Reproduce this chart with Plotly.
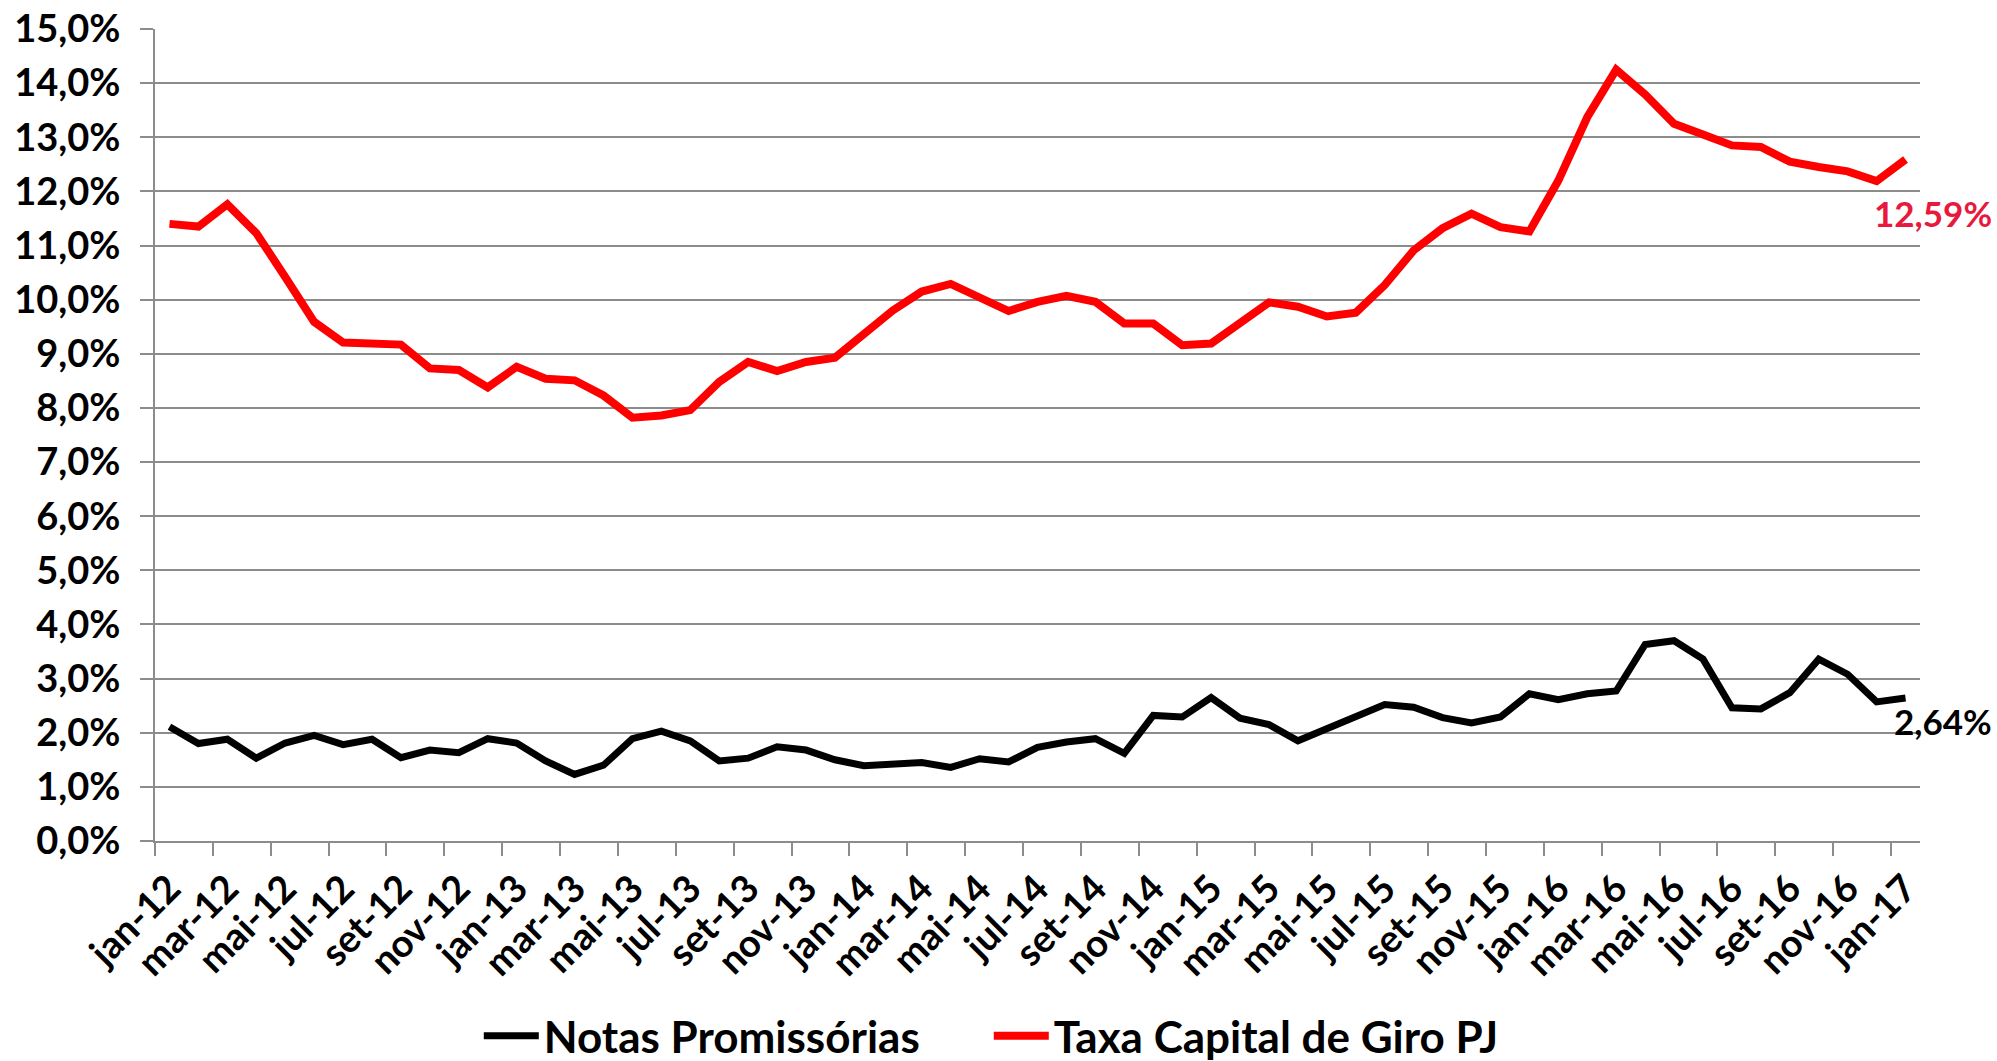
import plotly.graph_objects as go

months_pt = ["jan", "fev", "mar", "abr", "mai", "jun", "jul", "ago", "set", "out", "nov", "dez"]
categories = [f"{m}-{y}" for y in range(12, 17) for m in months_pt] + ["jan-17"]

notas_promissorias = [
    2.11, 1.80, 1.88, 1.53, 1.81, 1.95, 1.78, 1.88, 1.54, 1.68, 1.63, 1.89,
    1.81, 1.48, 1.23, 1.40, 1.89, 2.03, 1.85, 1.48, 1.53, 1.74, 1.68, 1.50,
    1.39, 1.43, 1.45, 1.36, 1.52, 1.46, 1.73, 1.83, 1.89, 1.62, 2.32, 2.29,
    2.65, 2.27, 2.15, 1.85, 2.07, 2.27, 2.52, 2.47, 2.28, 2.18, 2.29, 2.72,
    2.61, 2.72, 2.77, 3.63, 3.70, 3.36, 2.46, 2.44, 2.74, 3.36, 3.08, 2.57,
    2.64,
]

taxa_capital_giro = [
    11.40, 11.35, 11.76, 11.23, 10.42, 9.59, 9.21, 9.18, 9.17, 8.73, 8.70, 8.38,
    8.76, 8.54, 8.51, 8.23, 7.82, 7.86, 7.96, 8.48, 8.85, 8.68, 8.85, 8.93,
    9.38, 9.80, 10.15, 10.29, 10.04, 9.79, 9.96, 10.07, 9.96, 9.56, 9.56, 9.16,
    9.19, 9.56, 9.95, 9.87, 9.69, 9.76, 10.27, 10.91, 11.32, 11.59, 11.34, 11.26,
    12.20, 13.37, 14.25, 13.79, 13.25, 13.05, 12.85, 12.82, 12.55, 12.45, 12.37, 12.19,
    12.59,
]

label_notas = "2,64%"
label_taxa = "12,59%"

FONT = "Lato"
GRID = "#8c8c8c"
TICK_SIZE = 38

fig = go.Figure()
fig.add_trace(go.Scatter(
    x=categories, y=notas_promissorias, mode="lines", name="Notas Promissórias",
    line=dict(color="#000000", width=7), cliponaxis=False,
))
fig.add_trace(go.Scatter(
    x=categories, y=taxa_capital_giro, mode="lines", name="Taxa Capital de Giro PJ",
    line=dict(color="#FF0000", width=8), cliponaxis=False,
))

fig.add_annotation(x=categories[-1], y=taxa_capital_giro[-1], text=label_taxa,
                   showarrow=False, xanchor="right", yanchor="middle",
                   xshift=88, yshift=-54,
                   font=dict(family=FONT, size=35, weight="bold", color="#E8193C"))
fig.add_annotation(x=categories[-1], y=notas_promissorias[-1], text=label_notas,
                   showarrow=False, xanchor="right", yanchor="middle",
                   xshift=88, yshift=-23,
                   font=dict(family=FONT, size=35, weight="bold", color="#000000"))

fig.update_layout(
    width=1997, height=1061,
    margin=dict(l=155, r=77, t=29, b=220, autoexpand=False),
    paper_bgcolor="white", plot_bgcolor="white",
    separators=",.",
    showlegend=True,
    legend=dict(orientation="h", x=0.4724, xanchor="center",
                yref="container", y=0.0235, yanchor="middle",
                font=dict(family=FONT, size=44, weight="bold", color="#000000"),
                itemwidth=55, tracegroupgap=0,
                entrywidthmode="pixels", entrywidth=440),
    font=dict(family=FONT, color="#000000"),
)

fig.update_xaxes(
    type="category", range=[-0.5, len(categories) - 0.5], automargin=False,
    tickmode="linear", tick0=0, dtick=2, tickson="boundaries",
    showgrid=False, showline=True, linecolor=GRID, linewidth=2,
    ticks="outside", ticklen=13, tickwidth=2, tickcolor=GRID,
    tickangle=-45, tickfont=dict(family=FONT, size=TICK_SIZE, weight="bold", color="#000000"),
    ticklabelstandoff=8, ticklabeloverflow="allow",
)
fig.update_yaxes(
    range=[0, 15], dtick=1, tickformat=".1f", ticksuffix="%", automargin=False,
    showgrid=True, gridcolor=GRID, gridwidth=2,
    showline=True, linecolor=GRID, linewidth=2,
    ticks="outside", ticklen=13, tickwidth=2, tickcolor=GRID,
    tickfont=dict(family=FONT, size=TICK_SIZE, weight="bold", color="#000000"),
    ticklabelstandoff=12, zeroline=False, ticklabeloverflow="allow",
)

fig.write_html("out.html", config={"displayModeBar": False},
               post_script="document.body.style.margin='0';")
